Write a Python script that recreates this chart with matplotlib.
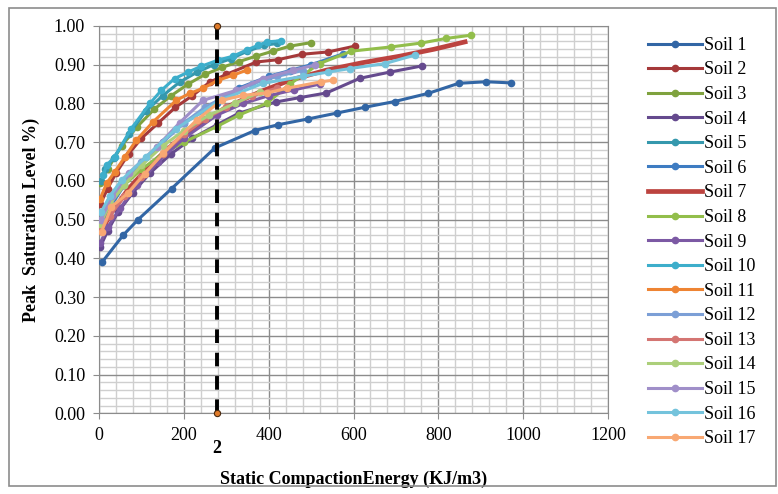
import matplotlib
matplotlib.use("Agg")
import matplotlib.pyplot as plt
from matplotlib import ticker
from matplotlib.patches import Rectangle
import matplotlib.transforms as mtransforms

plt.rcParams["font.family"] = ["Liberation Serif", "DejaVu Serif"]

# ---- data ----
soil1_x = [7, 57, 92, 171, 273, 367, 422, 493, 560, 626, 697, 776, 848, 913, 972]
soil1_y = [0.39, 0.46, 0.50, 0.58, 0.685, 0.73, 0.745, 0.76, 0.775, 0.79, 0.805, 0.826, 0.852, 0.856, 0.853]

soil2_x = [3, 20, 40, 70, 100, 140, 180, 220, 261, 300, 371, 422, 479, 540, 603]
soil2_y = [0.54, 0.58, 0.62, 0.67, 0.71, 0.75, 0.79, 0.82, 0.855, 0.875, 0.907, 0.913, 0.927, 0.933, 0.948]

soil3_x = [3, 20, 53, 90, 130, 170, 210, 250, 290, 330, 370, 410, 450, 500]
soil3_y = [0.595, 0.63, 0.69, 0.74, 0.785, 0.82, 0.85, 0.875, 0.893, 0.908, 0.922, 0.935, 0.948, 0.957]

soil4_x = [3, 20, 45, 80, 120, 170, 220, 278, 330, 418, 473, 536, 615, 686, 762]
soil4_y = [0.43, 0.47, 0.52, 0.57, 0.62, 0.67, 0.71, 0.745, 0.775, 0.804, 0.815, 0.827, 0.865, 0.881, 0.897]

soil5_x = [5, 15, 35, 70, 110, 150, 190, 230, 270, 310, 350, 390, 420]
soil5_y = [0.60, 0.63, 0.66, 0.72, 0.78, 0.82, 0.855, 0.88, 0.90, 0.915, 0.935, 0.95, 0.955]

soil6_x = [3, 25, 60, 100, 150, 200, 278, 330, 400, 450, 500, 575]
soil6_y = [0.48, 0.53, 0.59, 0.64, 0.70, 0.75, 0.80, 0.84, 0.87, 0.885, 0.90, 0.928]

soil7_x = [5, 30, 70, 120, 180, 240, 300, 380, 450, 536, 620, 709, 790, 863]
soil7_y = [0.47, 0.52, 0.58, 0.64, 0.70, 0.75, 0.79, 0.83, 0.86, 0.886, 0.905, 0.922, 0.94, 0.959]

soil8_x = [3, 25, 60, 100, 150, 200, 277, 330, 395, 450, 520, 595, 689, 760, 819, 876]
soil8_y = [0.49, 0.54, 0.59, 0.63, 0.67, 0.70, 0.74, 0.77, 0.80, 0.85, 0.903, 0.935, 0.946, 0.956, 0.968, 0.976]

soil9_x = [3, 20, 50, 90, 140, 200, 278, 340, 400, 460, 520]
soil9_y = [0.44, 0.48, 0.53, 0.59, 0.65, 0.71, 0.77, 0.80, 0.82, 0.835, 0.85]

soil10_x = [10, 18, 37, 76, 120, 147, 178, 210, 241, 281, 316, 348, 375, 397, 430]
soil10_y = [0.615, 0.641, 0.662, 0.735, 0.80, 0.834, 0.864, 0.881, 0.896, 0.912, 0.922, 0.938, 0.95, 0.959, 0.962]

soil11_x = [2, 18, 37, 61, 88, 127, 182, 214, 245, 281, 316, 348]
soil11_y = [0.552, 0.594, 0.623, 0.662, 0.705, 0.752, 0.808, 0.826, 0.839, 0.86, 0.873, 0.886]

soil12_x = [3, 25, 60, 100, 150, 200, 250, 300, 360, 420, 480]
soil12_y = [0.50, 0.55, 0.60, 0.65, 0.70, 0.75, 0.79, 0.82, 0.85, 0.87, 0.885]

soil13_x = [3, 25, 60, 100, 150, 200, 250, 300, 360, 420]
soil13_y = [0.47, 0.51, 0.56, 0.61, 0.67, 0.72, 0.76, 0.79, 0.82, 0.84]

soil14_x = [3, 25, 60, 100, 150, 200, 260, 320, 380]
soil14_y = [0.49, 0.54, 0.59, 0.64, 0.69, 0.73, 0.77, 0.80, 0.83]

soil15_x = [5, 30, 70, 136, 190, 245, 324, 387, 458, 509]
soil15_y = [0.50, 0.56, 0.62, 0.688, 0.75, 0.808, 0.834, 0.864, 0.886, 0.899]

soil16_x = [5, 25, 53, 111, 182, 285, 387, 480, 540, 591, 674, 745]
soil16_y = [0.52, 0.56, 0.602, 0.662, 0.735, 0.808, 0.852, 0.87, 0.881, 0.89, 0.903, 0.925]

soil17_x = [6, 29, 68, 108, 151, 230, 289, 340, 395, 442, 524, 552]
soil17_y = [0.469, 0.533, 0.568, 0.619, 0.671, 0.757, 0.808, 0.821, 0.827, 0.839, 0.856, 0.86]

soil_colors = ["#3266A5", "#A5393A", "#7FA23E", "#654A8E", "#3598AD", "#3E7CC2",
               "#BC433F", "#92BE4B", "#7C59A4", "#3DAECB", "#EE8433", "#7C9FD6",
               "#D47572", "#ACCF7A", "#A08FC9", "#74C3DC", "#F8A873"]

limit_x = [278, 278]
limit_y = [0.0, 1.0]
limit_label = "2"


def main():
    series = [
        (soil1_x, soil1_y), (soil2_x, soil2_y), (soil3_x, soil3_y), (soil4_x, soil4_y),
        (soil5_x, soil5_y), (soil6_x, soil6_y), (soil7_x, soil7_y), (soil8_x, soil8_y),
        (soil9_x, soil9_y), (soil10_x, soil10_y), (soil11_x, soil11_y), (soil12_x, soil12_y),
        (soil13_x, soil13_y), (soil14_x, soil14_y), (soil15_x, soil15_y), (soil16_x, soil16_y),
        (soil17_x, soil17_y),
    ]

    fig = plt.figure(figsize=(7.78, 4.94), dpi=100)
    ax = fig.add_axes([0.1273, 0.1634, 0.6542, 0.7840])

    for i, (xs, ys) in enumerate(series):
        if i == 6:   # Soil 7: thick line, no markers
            ax.plot(xs, ys, color=soil_colors[i], lw=3.4, label=f"Soil {i + 1}", zorder=3)
        else:
            ax.plot(xs, ys, color=soil_colors[i], lw=2.2, marker="o", ms=4.5,
                    label=f"Soil {i + 1}", zorder=3)

    # vertical limit line
    ax.plot(limit_x, limit_y, color="black", lw=2.8, ls=(0, (3.5, 2.5)), zorder=4)
    ax.plot(limit_x, limit_y, ls="none", marker="o", ms=4.5, mfc="#E07B2A",
            mec="#4A2A10", mew=0.8, zorder=5, clip_on=False)
    trans = mtransforms.blended_transform_factory(ax.transData, ax.transAxes)
    ax.text(limit_x[0], -0.09, limit_label, transform=trans, ha="center", va="center",
            fontsize=13, fontweight="bold")

    ax.set_xlim(0, 1200)
    ax.set_ylim(0, 1.0)
    ax.xaxis.set_major_locator(ticker.MultipleLocator(200))
    ax.xaxis.set_minor_locator(ticker.MultipleLocator(40))
    ax.yaxis.set_major_locator(ticker.MultipleLocator(0.1))
    ax.yaxis.set_minor_locator(ticker.MultipleLocator(0.02))
    ax.yaxis.set_major_formatter(ticker.FormatStrFormatter("%.2f"))

    ax.grid(True, which="minor", color="#CFCFCF", lw=1.0)
    ax.grid(True, which="major", color="#8C8C8C", lw=1.0)
    ax.set_axisbelow(True)
    ax.tick_params(which="major", direction="out", length=4, color="#8C8C8C",
                   labelsize=13, pad=6)
    ax.tick_params(which="minor", length=0)
    for sp in ax.spines.values():
        sp.set_color("#8C8C8C")

    ax.set_xlabel("Static CompactionEnergy (KJ/m3)", fontsize=13, fontweight="bold",
                  labelpad=19)
    ax.set_ylabel("Peak  Saturation Level %)", fontsize=13, fontweight="bold", labelpad=10)

    fig.legend(loc="upper left", bbox_to_anchor=(0.823, 0.940), frameon=False,
               fontsize=13, handlelength=3.0, handletextpad=0.15, labelspacing=0.42,
               borderaxespad=0)

    # outer chart border
    fig.patches.append(Rectangle((0.011, 0.016), 0.986, 0.968, transform=fig.transFigure,
                                 fill=False, edgecolor="#8C8C8C", lw=1.2))

    fig.savefig("out.png", dpi=100)


if __name__ == "__main__":
    main()
